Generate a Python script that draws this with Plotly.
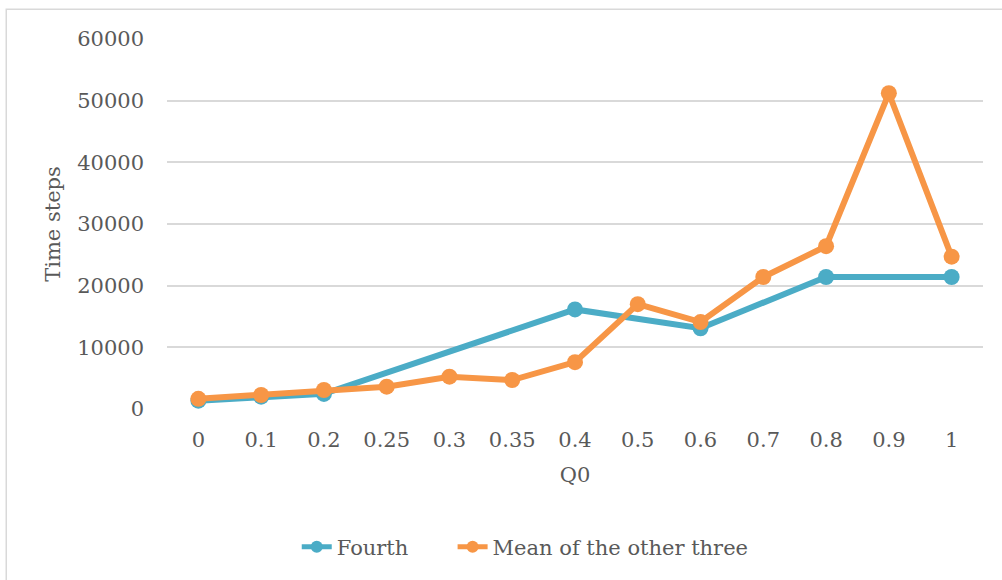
import plotly.graph_objects as go

# Q0 values on the category axis
q0_labels = ["0", "0.1", "0.2", "0.25", "0.3", "0.35", "0.4", "0.5", "0.6", "0.7", "0.8", "0.9", "1"]

# Time steps for the fourth run (only measured at some Q0 values)
fourth = [1350, 2000, 2450, None, None, None, 16150, None, 13100, None, 21400, None, 21400]

# Mean time steps of the other three runs
mean_other_three = [1650, 2270, 3080, 3620, 5240, 4700, 7600, 17000, 14100, 21400, 26400, 51200, 24700]

y_ticks = [0, 10000, 20000, 30000, 40000, 50000, 60000]

BLUE = "#4BACC6"
ORANGE = "#F79646"
TEXT = "#595959"
GRID = "#D9D9D9"
FONT = "DejaVu Serif"

fig = go.Figure()
fig.add_trace(go.Scatter(
    x=q0_labels, y=fourth, name="Fourth", mode="lines+markers",
    connectgaps=True,
    line=dict(color=BLUE, width=6),
    marker=dict(color=BLUE, size=16),
    legend="legend",
))
fig.add_trace(go.Scatter(
    x=q0_labels, y=mean_other_three, name="Mean of the other three", mode="lines+markers",
    line=dict(color=ORANGE, width=6),
    marker=dict(color=ORANGE, size=16),
    legend="legend2",
))

legend_style = dict(
    orientation="h", xanchor="left", y=-0.373, yanchor="middle",
    font=dict(family=FONT, size=21, color=TEXT),
    itemsizing="constant", bgcolor="rgba(0,0,0,0)",
)

fig.update_layout(
    width=1002, height=580,
    margin=dict(l=167, r=19, t=39, b=171),
    paper_bgcolor="white", plot_bgcolor="white",
    font=dict(family=FONT, size=21, color=TEXT),
    showlegend=True,
    legend=dict(x=0.159, **legend_style),
    legend2=dict(x=0.350, **legend_style),
    xaxis=dict(
        type="category", categoryorder="array", categoryarray=q0_labels,
        range=[-0.5, len(q0_labels) - 0.5],
        showgrid=False, zeroline=False, showline=False,
        ticks="", ticklabelstandoff=16,
        title=dict(text="Q0", standoff=16, font=dict(family=FONT, size=21, color=TEXT)),
    ),
    yaxis=dict(
        range=[0, 60000], tickvals=y_ticks, tickformat="d",
        showgrid=True, gridcolor=GRID, gridwidth=1.5,
        zeroline=False, showline=False,
        ticks="", ticklabelstandoff=22,
        title=dict(text="Time steps", standoff=10, font=dict(family=FONT, size=21, color=TEXT)),
    ),
    shapes=[dict(
        type="rect", xref="paper", yref="paper",
        x0=-0.197, x1=1.2, y0=-0.6, y1=1.0802,
        line=dict(color=GRID, width=1.5), fillcolor="rgba(0,0,0,0)", layer="below",
    )],
)

fig.write_html("out.html")
